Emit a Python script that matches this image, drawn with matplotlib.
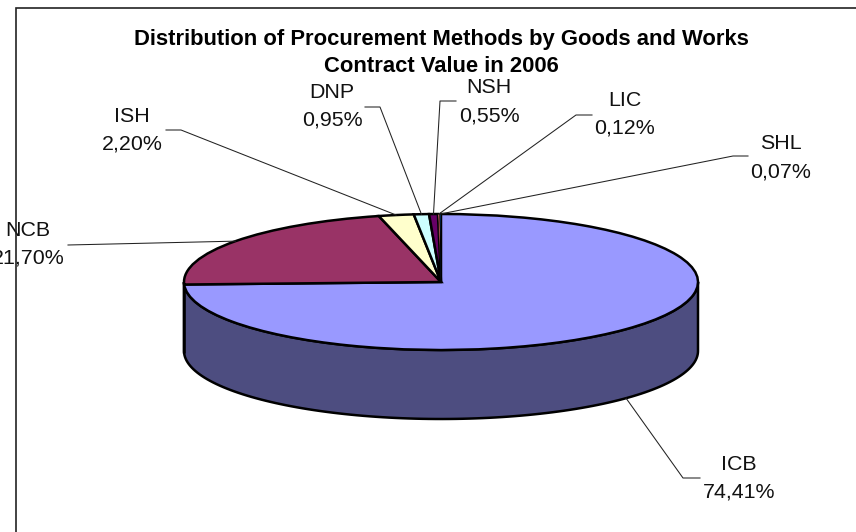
import numpy as np
import matplotlib
matplotlib.use("Agg")
import matplotlib.pyplot as plt

plt.rcParams['font.family'] = ['Liberation Sans', 'DejaVu Sans']

names = ['ICB', 'NCB', 'ISH', 'DNP', 'NSH', 'LIC', 'SHL']
values = [74.41, 21.70, 2.20, 0.95, 0.55, 0.12, 0.07]
colors = ['#9999FF', '#993366', '#FFFFCC', '#CCFFFF', '#660066', '#FF8080', '#0066CC']
wall_colors = ['#4D4D80', '#4D1A33', '#808066', '#668080', '#330033', '#804040', '#003366']
title = 'Distribution of Procurement Methods by Goods and Works\nContract Value in 2006'

# label centres and leader elbows, in image pixels
label_xy = [(739, 478), (28, 244), (132, 130), (332, 106), (489, 101), (625, 114), (781, 157)]
elbow_xy = [(683, 478), (68, 245), (181, 130), (380, 107), (440, 101), (576, 115), (733, 156)]
tick_end = [700, 68, 166, 365, 456, 592, 748]

W, H = 856, 532
cx, cy, rx, ry, depth = 441, 282, 257, 68, 69

fig = plt.figure(figsize=(W / 100, H / 100), dpi=100)
ax = fig.add_axes([0, 0, 1, 1])
wedges, _ = ax.pie(values, colors=colors, startangle=90, counterclock=False,
                   wedgeprops={'edgecolor': 'black', 'linewidth': 1.8, 'zorder': 3})
# the thin slices vanish under a full-width edge
for w, v in zip(wedges, values):
    if v < 0.5:
        w.set_linewidth(0.5)
ax.set_aspect('auto')
ax.set_xlim(-cx / rx, (W - cx) / rx)
ax.set_ylim((cy - H) / ry, cy / ry)
ax.axis('off')

# side of the cylinder: only the part of each slice on the front half shows
for w, c in zip(wedges, wall_colors):
    a0, a1 = w.theta1, w.theta2
    if a0 > 0 or a1 < -180:
        a0, a1 = a0 + 360, a1 + 360
    a0, a1 = max(a0, -180), min(a1, 0)
    if a1 <= a0:
        continue
    t = np.radians(np.linspace(a0, a1, 120))
    px = np.concatenate([np.cos(t), np.cos(t[::-1])])
    py = np.concatenate([np.sin(t), np.sin(t[::-1]) - depth / ry])
    ax.fill(px, py, facecolor=c, edgecolor='black', linewidth=1.8, zorder=2)

# everything else goes on an overlay in pixel coordinates
ov = fig.add_axes([0, 0, 1, 1])
ov.set_xlim(0, W)
ov.set_ylim(H, 0)
ov.axis('off')

ov.text(441, 53, title, ha='center', va='center', fontsize=15.85, fontweight='bold',
        linespacing=1.43)

total = sum(values)
start = 0
for i, name in enumerate(names):
    mid = (start + values[i] / 2) / total * 2 * np.pi
    start += values[i]
    x0 = cx + rx * np.sin(mid)
    y0 = cy - ry * np.cos(mid)
    if np.cos(mid) < 0:
        y0 += depth
    ex, ey = elbow_xy[i]
    ov.plot([x0, ex, tick_end[i]], [y0, ey, ey], color='#222222', lw=0.75, zorder=4)
    pct = f"{values[i]:.2f}".replace('.', ',') + '%'
    ov.text(label_xy[i][0], label_xy[i][1] + 0.5, name + '\n' + pct, ha='center', va='center',
            fontsize=15.4, linespacing=1.6, color='#111111', zorder=5)

# frame only shows on top and left
ov.plot([W, 16, 16], [8, 8, H], color='#222222', lw=1.2, zorder=6, solid_joinstyle='miter')

fig.savefig('out.png', dpi=100, facecolor='white')
